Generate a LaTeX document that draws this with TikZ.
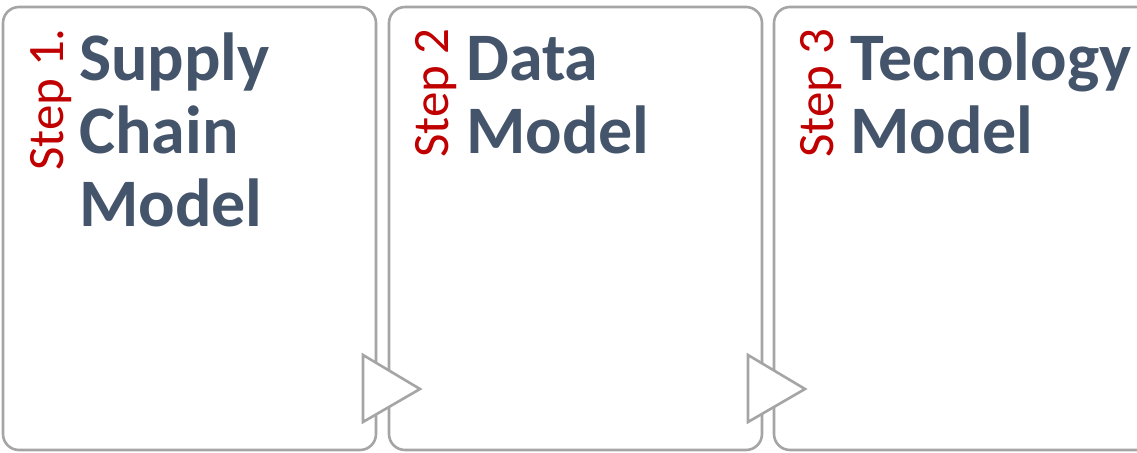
\documentclass[tikz,border=0pt]{standalone}
\usepackage{fontspec}
\setmainfont{Carlito}
\definecolor{boxgray}{HTML}{A5A5A5}
\definecolor{titleblue}{HTML}{44546A}
\definecolor{stepred}{HTML}{C00000}
\begin{document}
\begin{tikzpicture}[x=1bp,y=-1bp,
  panel/.style={draw=boxgray,line width=2.6bp,rounded corners=16bp,fill=white},
  chevron/.style={draw=boxgray,line width=2.6bp,fill=white,line join=miter},
  title/.style={anchor=base west,inner sep=0,align=left,text=titleblue,
    font=\fontsize{68bp}{73bp}\selectfont\bfseries},
  steplabel/.style={rotate=90,anchor=base east,inner sep=0,text=stepred,
    font=\fontsize{51bp}{60bp}\selectfont}]
\useasboundingbox (0,0) rectangle (1137,453);
\draw[panel] (3,7) rectangle (376,450);
\draw[panel] (389,7) rectangle (762,450);
\draw[panel] (774,7) rectangle (1152,450);
\coordinate (t1a) at (363,355);
\coordinate (t1b) at (420,389);
\coordinate (t1c) at (363,422);
\coordinate (t2a) at (748,355);
\coordinate (t2b) at (805,389);
\coordinate (t2c) at (748,422);
\draw[chevron] (t1a) -- (t1b) -- (t1c) -- cycle;
\draw[chevron] (t2a) -- (t2b) -- (t2c) -- cycle;
\node[steplabel] (s1) at (63,28) {Step 1.};
\node[steplabel] (s2) at (448,28) {Step 2};
\node[steplabel] (s3) at (833,28) {Step 3};
\node[title] (h1) at (79,227) {Supply\\Chain\\Model};
\node[title] (h2) at (466,154) {Data\\Model};
\node[title] (h3) at (850,154) {Tecnology\\Model};
\end{tikzpicture}
\end{document}
